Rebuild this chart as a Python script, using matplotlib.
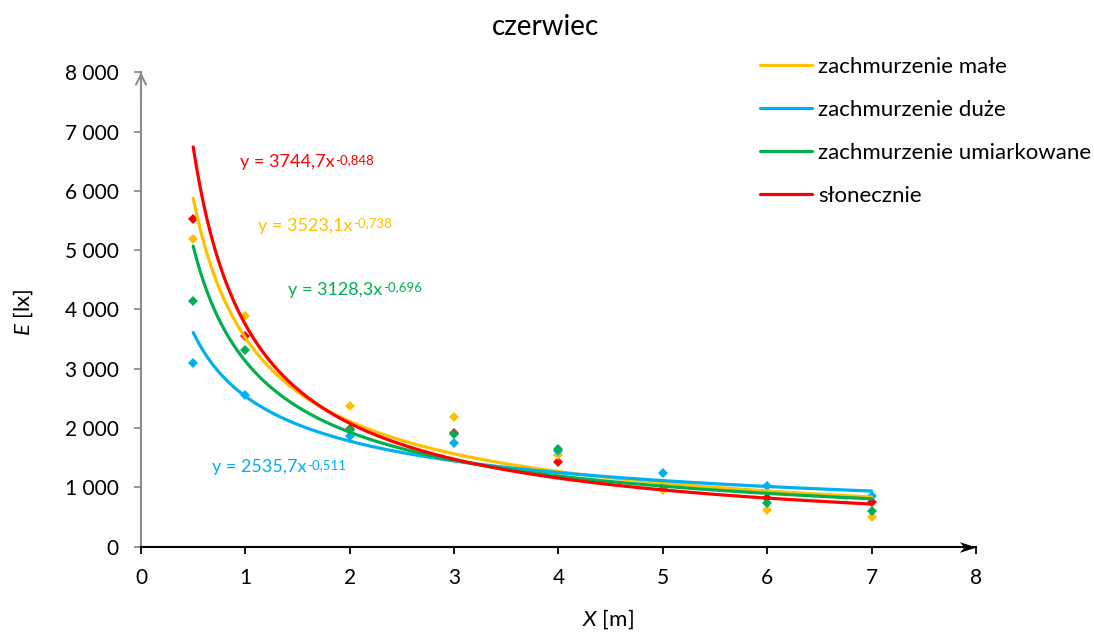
import numpy as np
import matplotlib
matplotlib.use("Agg")
import matplotlib.pyplot as plt
from matplotlib.ticker import FuncFormatter
from matplotlib.path import Path

plt.rcParams['font.family'] = ['Lato', 'DejaVu Sans']
plt.rcParams['mathtext.fontset'] = 'custom'
plt.rcParams['mathtext.rm'] = 'Lato'
plt.rcParams['mathtext.it'] = 'Lato:italic'

# Measurement distances [m]
distances = [0.5, 1, 2, 3, 4, 5, 6, 7]

# Illuminance [lx] per sky condition
series_names = ["zachmurzenie małe", "zachmurzenie duże",
                "zachmurzenie umiarkowane", "słonecznie"]
lux_small_cloud = [5195, 3892, 2369, 2188, 1540, 948, 621, 508]
lux_heavy_cloud = [3096, 2555, 1861, 1748, 1607, 1240, 1015, 860]
lux_moderate_cloud = [4146, 3316, 1975, 1907, 1641, 1020, 739, 609]
lux_sunny = [5533, 3553, 1990, 1920, 1427, 980, 825, 750]

# Power trendline coefficients y = a * x^b
fit_a = [3523.1, 2535.7, 3128.3, 3744.7]
fit_b = [-0.738, -0.511, -0.696, -0.848]
fit_labels = ["3523,1", "2535,7", "3128,3", "3744,7"]
fit_exp_labels = ["-0,738", "-0,511", "-0,696", "-0,848"]

colors = ["#FFC000", "#00B0F0", "#00B050", "#FF0000"]
label_pos = [(1.12, 5414), (0.68, 1337), (1.41, 4332), (0.95, 6480)]

fig = plt.figure(figsize=(10.94, 6.32), dpi=100)
ax = fig.add_axes([0.1289, 0.135, 0.7632, 0.7506])

data = [lux_small_cloud, lux_heavy_cloud, lux_moderate_cloud, lux_sunny]
marker_order = [3, 0, 1, 2]
for i in marker_order:
    ax.plot(distances, data[i], linestyle='none', marker='D', markersize=5.5,
            color=colors[i], markeredgewidth=0, zorder=3)

xs = np.linspace(min(distances), max(distances), 400)
handles = []
for i in range(4):
    ln, = ax.plot(xs, fit_a[i] * xs ** fit_b[i], color=colors[i], lw=2.3,
                  solid_capstyle='round', zorder=4 + i, label=series_names[i])
    handles.append(ln)
    tx, ty = label_pos[i]
    base = ax.text(tx, ty, "y = %sx" % fit_labels[i], color=colors[i],
                   fontsize=13, va='center', ha='left', zorder=10)
    ax.annotate(fit_exp_labels[i], xy=(1.0, 1.0), xycoords=base,
                xytext=(0.3, 0.5), textcoords='offset points',
                ha='left', va='top', fontsize=9.5, color=colors[i], zorder=10)

ax.set_xlim(0, 8)
ax.set_ylim(0, 8000)
ax.set_xticks(range(0, 9))
ax.set_yticks(range(0, 8001, 1000))
ax.yaxis.set_major_formatter(FuncFormatter(lambda v, p: f"{int(v):,}".replace(",", " ")))

for s in ['top', 'right']:
    ax.spines[s].set_visible(False)
ax.spines['left'].set_color('#8C8C8C')
ax.spines['left'].set_linewidth(1.5)
ax.spines['bottom'].set_color('black')
ax.spines['bottom'].set_linewidth(1.5)
ax.tick_params(axis='y', direction='out', length=5, width=1.3, color='#8C8C8C',
               labelsize=15, pad=11)
ax.tick_params(axis='x', direction='out', length=5, width=1.3, color='black',
               labelsize=15, pad=10)

# Axis arrows
stealth = Path([(0, 0), (-1, 0.32), (-0.72, 0), (-1, -0.32), (0, 0)],
               [Path.MOVETO, Path.LINETO, Path.LINETO, Path.LINETO, Path.CLOSEPOLY])
ax.plot([1.0], [0.0], marker=stealth, markersize=24, color='black',
        markeredgewidth=0, transform=ax.transAxes, clip_on=False, zorder=12)
ax.annotate('', xy=(0, 8000), xytext=(0, 7600), xycoords='data',
            arrowprops=dict(arrowstyle='->', color='#8C8C8C', lw=1.5,
                            mutation_scale=18, shrinkA=0, shrinkB=0),
            annotation_clip=False)

ax.set_xlabel("$\\mathit{X}$ [m]", fontsize=16)
ax.set_ylabel("$\\mathit{E}$ [lx]", fontsize=16)
ax.xaxis.set_label_coords(0.559, -0.128)
ax.yaxis.set_label_coords(-0.127, 0.495)
fig.text(0.499, 0.958, "czerwiec", ha='center', va='center', fontsize=20)

fig.legend(handles=handles, loc='upper left', bbox_to_anchor=(0.6947, 0.910),
           frameon=False, fontsize=16, handlelength=2.35, handletextpad=0.27,
           labelspacing=1.03, borderpad=0, borderaxespad=0)

fig.savefig("out.png", dpi=100)
